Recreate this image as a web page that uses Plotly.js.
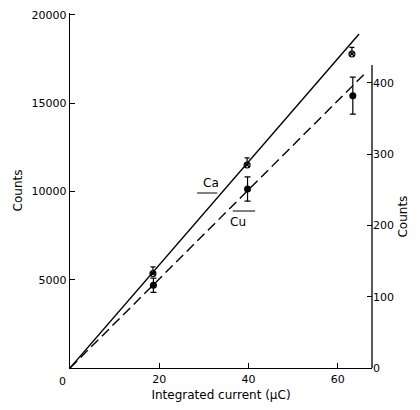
<!DOCTYPE html>
<html>
<head>
<meta charset="utf-8">
<script src="https://cdn.plot.ly/plotly-3.0.1.min.js"></script>
<style>html,body{margin:0;padding:0;background:#fff;}#chart{width:420px;height:410px;}</style>
</head>
<body>
<div id="chart"></div>
<script>
// Ca data (left axis, counts)
const caX = [18.6, 39.7, 63.2];
const caCounts = [5350, 11500, 17790];
const caErrUp = [380, 400, 380];
const caErrDown = [0, 0, 0];
// Cu data (right axis, counts)
const cuX = [18.7, 39.8, 63.4];
const cuCounts = [116, 251, 382];
const cuErr = [10, 17, 26];
// fitted lines
const caFitX = [0, 64.8];
const caFitY = [0, 18924];
const cuFitX = [0, 66.1];
const cuFitY = [0, 413];
// ticks
const xTicks = [20, 40, 60];
const xTickText = ['20', '40', '60'];
const leftTicks = [5000, 10000, 15000, 20000];
const leftTickText = ['5000', '10000', '15000', '20000'];
const rightTicks = [0, 100, 200, 300, 400];
const rightTickText = ['0', '100', '200', '300', '400'];
const rightAxisTop = 425;

const font = {family: 'DejaVu Sans, sans-serif', size: 11, color: '#000'};
const tfont = {family: 'DejaVu Sans, sans-serif', size: 12, color: '#000'};

const traces = [
  {x: caFitX, y: caFitY, mode: 'lines', line: {color: '#000', width: 1.4}, yaxis: 'y', hoverinfo: 'skip'},
  {x: cuFitX, y: cuFitY, mode: 'lines', line: {color: '#000', width: 1.4, dash: '10px,5px'}, yaxis: 'y2', hoverinfo: 'skip'},
  {x: caX, y: caCounts, mode: 'markers', yaxis: 'y',
   marker: {symbol: 'circle-x-open', size: 6, color: '#000', line: {width: 1.1, color: '#000'}},
   error_y: {type: 'data', symmetric: false, array: caErrUp, arrayminus: caErrDown, color: '#000', thickness: 1.2, width: 2.5}},
  {x: cuX, y: cuCounts, mode: 'markers', yaxis: 'y2',
   marker: {symbol: 'circle', size: 7, color: '#000'},
   error_y: {type: 'data', array: cuErr, color: '#000', thickness: 1.2, width: 3}}
];

const layout = {
  width: 420, height: 410,
  margin: {l: 70, r: 48, t: 13, b: 42},
  paper_bgcolor: '#fff', plot_bgcolor: '#fff',
  showlegend: false,
  font: font,
  xaxis: {
    range: [0, 67.7], showgrid: false, zeroline: false,
    showline: true, linecolor: '#000', linewidth: 1.3,
    ticks: 'inside', ticklen: 5, tickcolor: '#000', tickwidth: 1,
    tickvals: xTicks, ticktext: xTickText, tickfont: font,
    title: {text: 'Integrated current (\u03bcC)', font: tfont, standoff: 6}
  },
  yaxis: {
    range: [0, 20113], showgrid: false, zeroline: false,
    showline: true, linecolor: '#000', linewidth: 1.3,
    ticks: 'inside', ticklen: 5, tickcolor: '#000', tickwidth: 1,
    tickvals: leftTicks, ticktext: leftTickText, tickfont: font,
    title: {text: 'Counts', font: tfont, standoff: 6}
  },
  yaxis2: {
    overlaying: 'y', side: 'right', range: [0, 498],
    showgrid: false, zeroline: false, showline: false,
    ticks: 'inside', ticklen: 5, tickcolor: '#000', tickwidth: 1,
    tickvals: rightTicks, ticktext: rightTickText, tickfont: font
  },
  shapes: [
    {type: 'line', xref: 'paper', yref: 'y2', x0: 1, x1: 1, y0: 0, y1: rightAxisTop, line: {color: '#000', width: 1.3}},
    {type: 'line', xref: 'x', yref: 'y', x0: 28.5, x1: 33.0, y0: 9915, y1: 9915, line: {color: '#000', width: 1}},
    {type: 'line', xref: 'x', yref: 'y', x0: 36.5, x1: 41.5, y0: 8895, y1: 8895, line: {color: '#000', width: 1}}
  ],
  annotations: [
    {xref: 'x', yref: 'y', x: 31.6, y: 10482, text: 'Ca', showarrow: false, font: tfont},
    {xref: 'x', yref: 'y', x: 37.6, y: 8272, text: 'Cu', showarrow: false, font: tfont},
    {xref: 'paper', yref: 'paper', x: 0, y: 0, xanchor: 'right', yanchor: 'top', xshift: -2, yshift: -5, text: '0', showarrow: false, font: font},
    {xref: 'paper', yref: 'y2', x: 1, y: rightAxisTop / 2, xshift: 40, text: 'Counts', textangle: -90, showarrow: false, font: tfont}
  ]
};

Plotly.newPlot('chart', traces, layout, {staticPlot: true, displayModeBar: false});
</script>
</body>
</html>
